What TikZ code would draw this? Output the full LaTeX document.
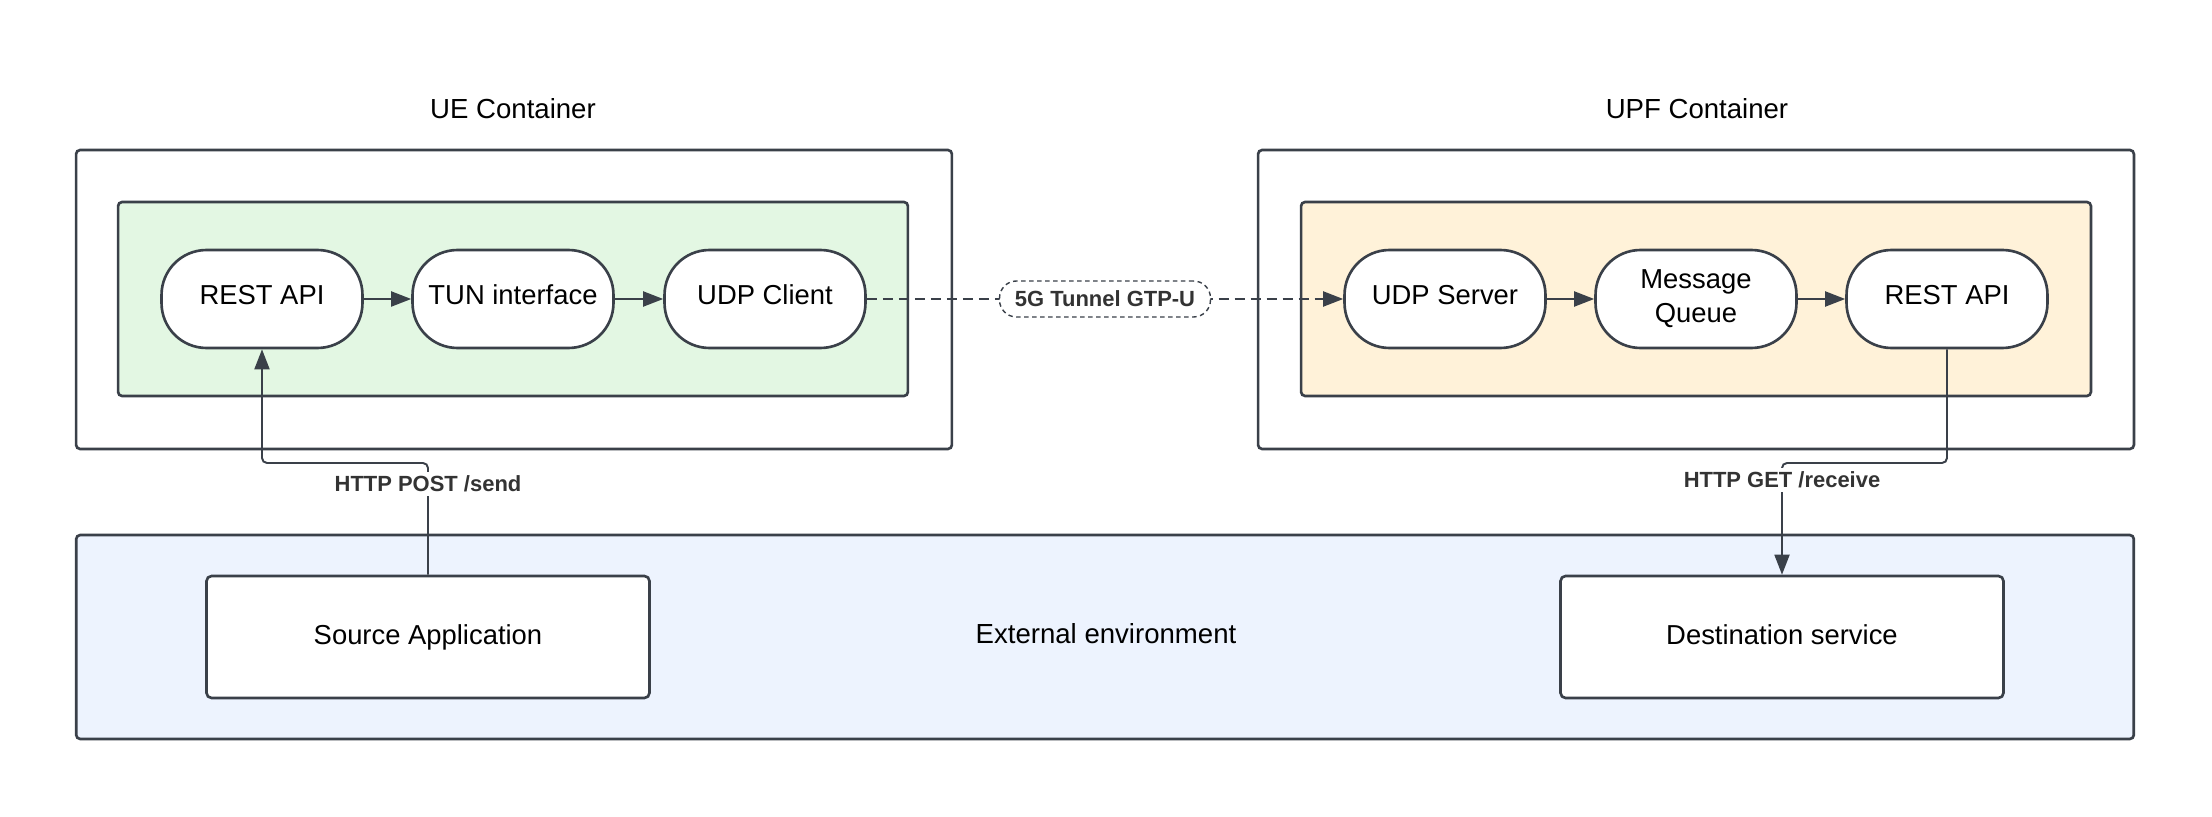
\documentclass[tikz,border=0pt]{standalone}
\usepackage{fontspec}
\setmainfont{Liberation Sans}
\usetikzlibrary{arrows.meta}
\definecolor{ln}{HTML}{3A4049}
\definecolor{txt}{HTML}{333333}
\definecolor{gfill}{HTML}{E3F7E3}
\definecolor{yfill}{HTML}{FFF2D9}
\definecolor{bfill}{HTML}{EDF3FE}
\begin{document}
\begin{tikzpicture}[x=0.02cm,y=-0.02cm,
  cont/.style={draw=ln, line width=1.5pt, rounded corners=0.08cm, inner sep=0pt},
  pill/.style={draw=ln, line width=1.5pt, fill=white, rounded corners=0.9cm,
    minimum width=4.02cm, minimum height=1.96cm, inner sep=0pt, align=center,
    font=\fontsize{15.6}{19.3}\selectfont},
  oneline/.style={text height=0.4cm, text depth=0.16cm},
  appbox/.style={draw=ln, line width=1.5pt, fill=white, rounded corners=0.1cm,
    minimum width=8.86cm, minimum height=2.44cm, inner sep=0pt,
    text height=0.4cm, text depth=0.12cm,
    font=\fontsize{15.6}{19.3}\selectfont},
  title/.style={font=\fontsize{15.7}{19}\selectfont, inner sep=0pt},
  conn/.style={draw=ln, line width=1.1pt, -{Triangle[length=0.4cm,width=0.3cm]}},
  lbl/.style={fill=white, text=txt, font=\bfseries\fontsize{12.5}{15}\selectfont, inner sep=2pt},
  tunlbl/.style={draw=ln, line width=0.8pt, dash pattern=on 0.09cm off 0.07cm,
    rounded corners=0.34cm, fill=white, text=txt, minimum width=4.22cm, minimum height=0.72cm,
    inner sep=0pt, font=\bfseries\fontsize{12.5}{15}\selectfont}
]
\useasboundingbox[fill=white] (0,0) rectangle (2212,817);

% titles
\node[title] (uet) at (513,109) {UE Container};
\node[title] (upft) at (1697,109) {UPF Container};

% containers
\node[cont, minimum width=17.52cm, minimum height=5.98cm] (ueo) at (514,299.5) {};
\node[cont, fill=gfill, minimum width=15.8cm, minimum height=3.88cm] (uei) at (513,299) {};
\node[cont, minimum width=17.52cm, minimum height=5.98cm] (upfo) at (1696,299.5) {};
\node[cont, fill=yfill, minimum width=15.8cm, minimum height=3.88cm] (upfi) at (1696,299) {};
\node[cont, fill=bfill, minimum width=41.16cm, minimum height=4.08cm] (ext) at (1105,637) {};
\node[title] (extl) at (1106,634) {External environment};

% pills
\node[pill, oneline] (rest1) at (262,299) {REST API};
\node[pill, oneline] (tun) at (513,299) {TUN interface};
\node[pill, oneline] (udpc) at (765,299) {UDP Client};
\node[pill, oneline] (udps) at (1445,299) {UDP Server};
\node[pill] (mq) at (1696,299) {Message\\Queue};
\node[pill, oneline] (rest2) at (1947,299) {REST API};

% apps
\node[appbox] (src) at (428,637) {Source Application};
\node[appbox] (dst) at (1782,637) {Destination service};

% arrows inside containers
\draw[conn] (rest1) -- (tun);
\draw[conn] (tun) -- (udpc);
\draw[conn] (udps) -- (mq);
\draw[conn] (mq) -- (rest2);

% tunnel
\draw[conn, dash pattern=on 0.2cm off 0.12cm] (udpc.east) -- node[tunlbl] (tunl) {5G Tunnel GTP-U} (udps.west);

% HTTP connectors
\coordinate (m1) at (0,463);
\draw[conn, rounded corners=0.1cm] (src.north) -- (src.north |- m1) -| (rest1.south);
\node[lbl] (postl) at (428,484) {HTTP POST /send};
\draw[conn, rounded corners=0.1cm] (rest2.south) -- (rest2.south |- m1) -| (dst.north);
\node[lbl] (getl) at (1782,480) {HTTP GET /receive};
\end{tikzpicture}
\end{document}
